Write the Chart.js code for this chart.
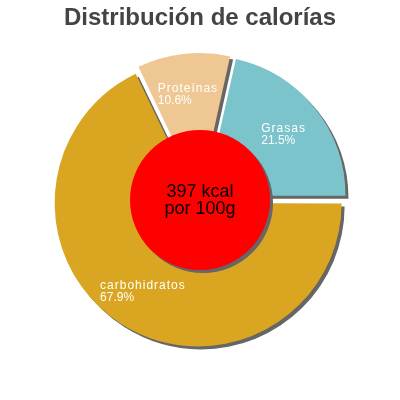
<!DOCTYPE html>
<html>
<head>
<meta charset="utf-8">
<script src="https://cdn.jsdelivr.net/npm/chart.js@4"></script>
<style>
  html, body { margin: 0; padding: 0; background: #fff; }
  #wrap { width: 400px; height: 400px; }
</style>
</head>
<body>
<div id="wrap"><canvas id="myChart" width="400" height="400"></canvas></div>
<script>
const labels = ['Grasas', 'carbohidratos', 'Proteínas'];
const values = [21.5, 67.9, 10.6];
const colors = ['#7bc4cc', '#daa520', '#efc792'];
const kcal = 397;
const centerLines = [kcal + ' kcal', 'por 100g'];

const FONT = '"Liberation Sans", Arial, sans-serif';
const total = values.reduce((a, b) => a + b, 0);
const EXPLODE = 7; // px each slice is pushed out

// Chart.js moves an arc by offset/4 * (1 + fix), so undo that to get an even gap
const offsets = values.map(v => {
  const circ = v / total * Math.PI * 2;
  const fix = 1 - Math.sin(Math.min(Math.PI, circ));
  return EXPLODE * 4 / (1 + fix);
});

// grey drop shadow under the slices
const shadowPlugin = {
  id: 'shadow',
  beforeDatasetsDraw(chart) {
    const ctx = chart.ctx;
    ctx.save();
    ctx.shadowColor = '#666';
    ctx.shadowOffsetX = 3;
    ctx.shadowOffsetY = 3;
    ctx.shadowBlur = 0;
  },
  afterDatasetsDraw(chart) {
    chart.ctx.restore();
  }
};

// slice labels + red centre disc
const overlayPlugin = {
  id: 'overlay',
  afterDatasetsDraw(chart) {
    const ctx = chart.ctx;
    const meta = chart.getDatasetMeta(0);

    meta.data.forEach((arc, i) => {
      const p = arc.getProps(['x', 'y', 'startAngle', 'endAngle', 'outerRadius'], true);
      const mid = (p.startAngle + p.endAngle) / 2;
      const r = EXPLODE + p.outerRadius * 0.715;
      const cx = p.x + Math.cos(mid) * r;
      const cy = p.y + Math.sin(mid) * r;
      const name = labels[i];
      const pct = (values[i] / total * 100).toFixed(1) + '%';

      ctx.save();
      ctx.font = '12px ' + FONT;
      ctx.fillStyle = '#fff';
      ctx.textBaseline = 'alphabetic';
      ctx.textAlign = 'left';
      ctx.letterSpacing = '1px';
      const w1 = ctx.measureText(name).width;
      ctx.letterSpacing = '0px';
      const w2 = ctx.measureText(pct).width;
      const left = cx - Math.max(w1, w2) / 2;
      ctx.letterSpacing = '1px';
      ctx.fillText(name, left, cy - 1.5);
      ctx.letterSpacing = '0px';
      ctx.fillText(pct, left, cy + 10.5);
      ctx.restore();
    });

    const a0 = meta.data[0];
    const x = a0.x, y = a0.y;
    const rad = a0.outerRadius / 2;
    ctx.save();
    ctx.shadowColor = '#666';
    ctx.shadowOffsetX = 3;
    ctx.shadowOffsetY = 3;
    ctx.beginPath();
    ctx.arc(x, y, rad, 0, Math.PI * 2);
    ctx.fillStyle = '#ff0000';
    ctx.fill();
    ctx.restore();

    ctx.save();
    ctx.font = '18px ' + FONT;
    ctx.fillStyle = '#000';
    ctx.textAlign = 'center';
    ctx.textBaseline = 'alphabetic';
    ctx.fillText(centerLines[0], x, y - 3);
    ctx.fillText(centerLines[1], x, y + 14);
    ctx.restore();
  }
};

new Chart(document.getElementById('myChart'), {
  type: 'pie',
  data: {
    labels: labels,
    datasets: [{
      data: values,
      backgroundColor: colors,
      borderWidth: 0,
      offset: offsets,
      hoverOffset: 0
    }]
  },
  options: {
    responsive: false,
    animation: false,
    events: [],
    rotation: 90 - values[0] * 360 / total,
    radius: 140,
    layout: { padding: { bottom: 36.8 } },
    plugins: {
      legend: { display: false },
      tooltip: { enabled: false },
      title: {
        display: true,
        text: 'Distribución de calorías',
        color: '#444',
        font: { family: FONT, size: 24, weight: 'bold' },
        padding: { top: 4, bottom: 4 }
      }
    }
  },
  plugins: [shadowPlugin, overlayPlugin]
});
</script>
</body>
</html>
